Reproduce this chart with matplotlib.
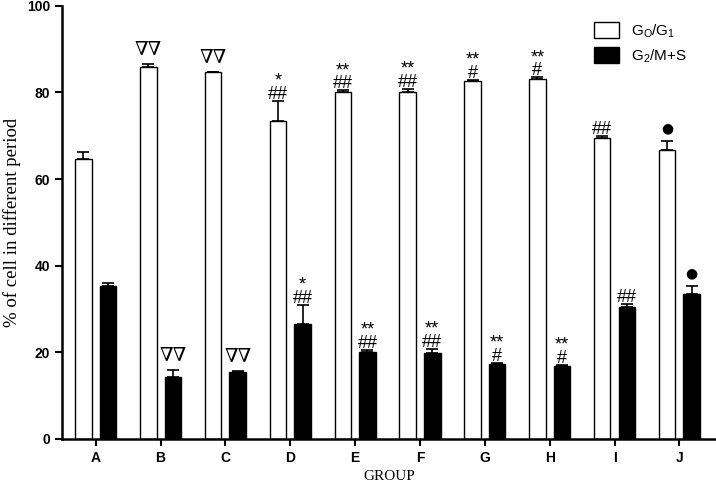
import matplotlib
matplotlib.use("Agg")
import matplotlib.pyplot as plt
import numpy as np

plt.rcParams['font.family'] = ['Liberation Sans', 'DejaVu Sans']
plt.rcParams['mathtext.fontset'] = 'custom'
plt.rcParams['mathtext.rm'] = 'Liberation Sans'
plt.rcParams['mathtext.it'] = 'Liberation Sans'

groups = ['A', 'B', 'C', 'D', 'E', 'F', 'G', 'H', 'I', 'J']
g0g1 = [64.6, 86.0, 84.7, 73.5, 80.0, 80.2, 82.7, 83.1, 69.4, 66.7]
g0g1_err = [1.7, 0.5, 0.1, 4.5, 0.5, 0.7, 0.3, 0.4, 0.6, 2.1]
g2ms = [35.4, 14.2, 15.5, 26.5, 20.0, 19.9, 17.3, 16.8, 30.5, 33.4]
g2ms_err = [0.6, 1.6, 0.2, 4.5, 0.5, 0.8, 0.3, 0.3, 0.6, 2.0]

# significance marks above each pair (same for both bars)
marks = ['', '∇∇', '∇∇', '*\n##', '**\n##', '**\n##', '**\n#', '**\n#', '##', '●']

fig = plt.figure(figsize=(7.16, 4.83), dpi=100)
ax = fig.add_axes([0.0866, 0.0917, 0.913, 0.896])

x = np.arange(len(groups))
w = 0.255
off = 0.19
zeros = np.zeros(len(groups))
ekw = dict(ecolor='black', elinewidth=1.2, capsize=4, capthick=1.2)
ax.bar(x - off, g0g1, w, color='white', edgecolor='black', linewidth=1.0,
       yerr=[zeros, g0g1_err], error_kw=ekw, label=r'G$_\mathrm{O}$/G$_1$')
ax.bar(x + off, g2ms, w, color='black', edgecolor='black', linewidth=1.0,
       yerr=[zeros, g2ms_err], error_kw=ekw, label=r'G$_2$/M+S')


def put_marks(xc, top, s):
    if not s:
        return
    if s.startswith('∇'):
        ax.annotate(s, (xc, top), xytext=(0, 7), textcoords='offset points',
                    ha='center', va='baseline', fontsize=14, family=['DejaVu Serif'])
    elif s == '●':
        ax.annotate(s, (xc, top), xytext=(0, 6), textcoords='offset points',
                    ha='center', va='baseline', fontsize=10, family=['DejaVu Sans'])
    else:
        ax.annotate(s, (xc, top), xytext=(0, -1.5), textcoords='offset points',
                    ha='center', va='bottom', fontsize=13, linespacing=0.72,
                    multialignment='center')


for i in range(len(groups)):
    put_marks(x[i] - off, g0g1[i] + g0g1_err[i], marks[i])
    put_marks(x[i] + off, g2ms[i] + g2ms_err[i], marks[i])

ax.set_xlim(-0.52, 9.56)
ax.set_ylim(0, 100)
ax.set_xticks(x)
ax.set_xticklabels(groups, fontweight='bold', fontsize=10)
ax.set_yticks(np.arange(0, 101, 20))
ax.tick_params(axis='y', labelsize=10, width=1.5, length=5, direction='out')
ax.tick_params(axis='x', width=1.5, length=5, direction='out')
for lab in ax.get_yticklabels():
    lab.set_fontweight('bold')
for s in ['top', 'right']:
    ax.spines[s].set_visible(False)
for s in ['left', 'bottom']:
    ax.spines[s].set_linewidth(1.8)

ax.set_ylabel('% of cell in different period', family=['Liberation Serif'], fontsize=13.5)
ax.set_xlabel('GROUP', family=['Liberation Serif'], fontsize=11, labelpad=4)

ax.legend(loc='upper left', bbox_to_anchor=(0.815, 0.976), bbox_transform=fig.transFigure,
          frameon=False, fontsize=11, handlelength=1.6, handleheight=1.2,
          labelspacing=0.5, handletextpad=0.8, borderpad=0.2)

fig.savefig('out.png', dpi=100)
